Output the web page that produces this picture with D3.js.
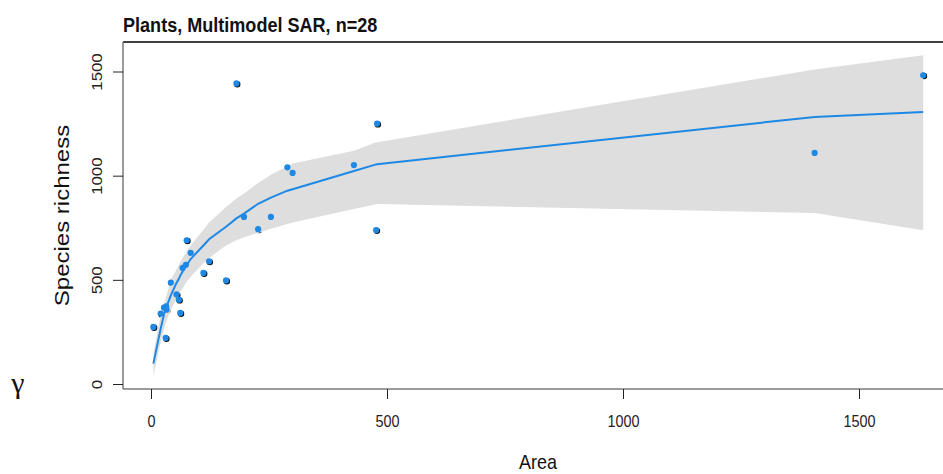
<!DOCTYPE html>
<html>
<head>
<meta charset="utf-8">
<script src="https://cdn.jsdelivr.net/npm/d3@7"></script>
<style>
  body { margin: 0; background: #fff; }
  svg { display: block; font-family: "Liberation Sans", Arial, sans-serif; }
</style>
</head>
<body>
<svg id="chart" width="943" height="474"></svg>
<script>
// observed sites: area vs species richness
const areas    = [5, 20.5, 27.5, 31, 32, 33, 42, 54, 59, 62, 67, 74, 75.6, 84, 111, 123, 159, 181, 197, 227, 254, 289, 300, 430, 477, 479, 1406, 1636];
const richness = [274, 338, 367, 221, 373, 357, 487, 430, 405, 341, 557, 572, 690, 629, 533, 589, 497, 1443, 802, 743, 802, 1040, 1013, 1051, 739, 1250, 1109, 1482];

// multimodel fit, read at each observed area
const fitArea = areas;
const fitS    = [98, 265, 335, 358, 365, 372, 425, 485, 505, 520, 540, 565, 570, 600, 665, 695, 755, 795, 818, 865, 895, 928, 935, 1022, 1054, 1055, 1282, 1306];
const fitLo   = [38, 200, 265, 290, 297, 304, 355, 410, 430, 442, 460, 485, 490, 515, 580, 605, 665, 690, 705, 725, 745, 768, 775, 840, 863, 864, 821, 738];
const fitHi   = [150, 330, 385, 410, 418, 425, 500, 550, 570, 585, 605, 630, 636, 665, 740, 775, 850, 890, 915, 965, 1005, 1045, 1058, 1120, 1160, 1161, 1510, 1578];

const xTicks = [0, 500, 1000, 1500];
const yTicks = [0, 500, 1000, 1500];

const BLUE = "#1e88e5";
const plot = { left: 123, top: 42, bottom: 389, right: 960 };

const svg = d3.select("#chart");
const x = d3.scaleLinear().domain([0, 1500]).range([151, 859]);
const y = d3.scaleLinear().domain([0, 1500]).range([384, 71.5]);

const fit = fitArea.map((a, i) => ({ a, s: fitS[i], lo: fitLo[i], hi: fitHi[i] }));
const pts = areas.map((a, i) => ({ a, s: richness[i] }));

// dark point shadows go under the band, so only the ones outside it show an edge
svg.append("g").selectAll("circle").data(pts).join("circle")
  .attr("cx", d => x(d.a) + 0.8).attr("cy", d => y(d.s) + 0.8)
  .attr("r", 3.2).attr("fill", "#111");

svg.append("path")
  .datum(fit)
  .attr("d", d3.area().x(d => x(d.a)).y0(d => y(d.lo)).y1(d => y(d.hi)))
  .attr("fill", "#dedede");

svg.append("path")
  .datum(fit)
  .attr("d", d3.line().x(d => x(d.a)).y(d => y(d.s)))
  .attr("fill", "none").attr("stroke", BLUE).attr("stroke-width", 2);

svg.append("g").selectAll("circle").data(pts).join("circle")
  .attr("cx", d => x(d.a)).attr("cy", d => y(d.s))
  .attr("r", 3.1).attr("fill", BLUE);

// frame
svg.append("line").attr("x1", plot.left).attr("x2", plot.right).attr("y1", plot.top).attr("y2", plot.top)
  .attr("stroke", "#000").attr("stroke-width", 1.5);
svg.append("line").attr("x1", plot.left).attr("x2", plot.left).attr("y1", plot.top).attr("y2", plot.bottom)
  .attr("stroke", "#7a7a7a").attr("stroke-width", 1.5);
svg.append("line").attr("x1", plot.left).attr("x2", plot.right).attr("y1", plot.bottom).attr("y2", plot.bottom)
  .attr("stroke", "#7a7a7a").attr("stroke-width", 1.5);

// x axis
const xAxis = svg.append("g").attr("transform", `translate(0,${plot.bottom})`)
  .call(d3.axisBottom(x).tickValues(xTicks).tickSize(10).tickPadding(17).tickFormat(d3.format("d")));
xAxis.select(".domain").remove();
xAxis.selectAll("line").attr("stroke", "#222");
xAxis.selectAll("text").attr("font-size", 16).attr("fill", "#222")
  .attr("font-family", "Liberation Sans, Arial, sans-serif")
  .attr("transform", "scale(0.9,1)");

// y axis, labels turned along the axis
const yAxis = svg.append("g").attr("transform", `translate(${plot.left},0)`)
  .call(d3.axisLeft(y).tickValues(yTicks).tickSize(10).tickFormat(d3.format("d")));
yAxis.select(".domain").remove();
yAxis.selectAll("line").attr("stroke", "#222");
yAxis.selectAll("text")
  .attr("x", 0).attr("y", -21).attr("dy", 0)
  .attr("text-anchor", "middle")
  .attr("font-size", 14).attr("fill", "#222")
  .attr("font-family", "Liberation Sans, Arial, sans-serif")
  .attr("transform", "rotate(-90) scale(1.2,1)");

// titles
svg.append("text")
  .attr("transform", `translate(${plot.left},32) scale(0.86,1)`)
  .attr("font-size", 21).attr("font-weight", "bold").attr("fill", "#111")
  .text("Plants, Multimodel SAR, n=28");

svg.append("text")
  .attr("transform", "translate(538,469) scale(0.9,1)")
  .attr("text-anchor", "middle").attr("font-size", 20).attr("fill", "#111")
  .text("Area");

svg.append("text")
  .attr("transform", `translate(69,${(plot.top + plot.bottom) / 2}) rotate(-90) scale(1.2,1)`)
  .attr("text-anchor", "middle").attr("font-size", 20).attr("fill", "#111")
  .text("Species richness");

svg.append("text")
  .attr("x", 18).attr("y", 393)
  .attr("text-anchor", "middle")
  .attr("font-family", "Liberation Serif, serif").attr("font-size", 30).attr("fill", "#111")
  .text("γ");
</script>
</body>
</html>
